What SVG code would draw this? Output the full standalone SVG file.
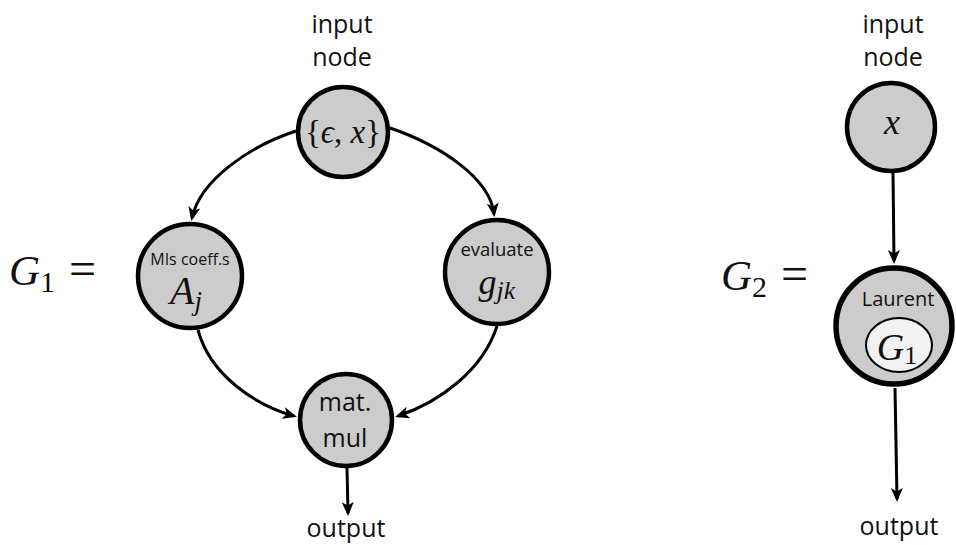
<svg xmlns="http://www.w3.org/2000/svg" width="956" height="545" viewBox="0 0 956 545">
<style>
.node{fill:#cccccc;stroke:#000;stroke-width:4.5}
.sans{font-family:"Open Sans","Noto Sans","DejaVu Sans",sans-serif;fill:#111;text-anchor:middle}
.math{font-family:"Liberation Serif","DejaVu Serif",serif;fill:#111}
.it{font-style:italic}
.edge{fill:none;stroke:#000;stroke-width:3}
</style>
<defs>
<marker id="arr" markerUnits="userSpaceOnUse" markerWidth="16" markerHeight="14" refX="11" refY="7" orient="auto">
<path d="M0,1 L14,7 L0,13 L3.5,7 z" fill="#000"/>
</marker>
</defs>
<rect width="956" height="545" fill="#fff"/>

<g id="labels">
<text class="sans" x="342" y="33" font-size="25">input</text>
<text class="sans" x="342" y="66" font-size="25">node</text>
<text class="sans" x="346" y="537" font-size="25">output</text>
<text class="sans" x="893" y="33" font-size="25">input</text>
<text class="sans" x="893" y="66" font-size="25">node</text>
<text class="sans" x="899" y="535" font-size="25">output</text>
<text class="math" x="9" y="285" font-size="43"><tspan class="it">G</tspan><tspan font-size="30" dy="7">1</tspan><tspan dy="-7" dx="14" font-size="48">=</tspan></text>
<text class="math" x="721" y="290" font-size="43"><tspan class="it">G</tspan><tspan font-size="30" dy="7">2</tspan><tspan dy="-7" dx="14" font-size="48">=</tspan></text>
</g>

<g id="connectors">
<path class="edge" marker-end="url(#arr)" d="M296,131 C250,146 200,180 192,218"/>
<path class="edge" marker-end="url(#arr)" d="M390,128 C440,145 490,178 494,214"/>
<path class="edge" marker-end="url(#arr)" d="M198,330 C210,375 255,405 294,416"/>
<path class="edge" marker-end="url(#arr)" d="M497,326 C483,370 440,402 398,416"/>
<path class="edge" marker-end="url(#arr)" d="M347,468 L348,513"/>
<path class="edge" marker-end="url(#arr)" d="M893,172 L894,261"/>
<path class="edge" marker-end="url(#arr)" d="M895,388 L897,499"/>
</g>

<g id="node-input">
<circle class="node" cx="343" cy="132" r="45"/>
<text class="math" x="343" y="143" font-size="33" text-anchor="middle">{<tspan class="it">ϵ</tspan>, <tspan class="it">x</tspan>}</text>
</g>

<g id="node-A">
<circle class="node" cx="190" cy="276" r="52"/>
<text class="sans" x="190" y="265" font-size="16">MIs coeff.s</text>
<text class="math" x="186" y="304" font-size="40" text-anchor="middle"><tspan class="it">A</tspan><tspan class="it" font-size="27" dy="6">j</tspan></text>
</g>

<g id="node-g">
<circle class="node" cx="497" cy="272" r="52"/>
<text class="sans" x="497" y="256" font-size="18.5">evaluate</text>
<text class="math" x="497" y="294" font-size="36" text-anchor="middle"><tspan class="it">g</tspan><tspan class="it" font-size="26" dy="5">jk</tspan></text>
</g>

<g id="node-matmul">
<circle class="node" cx="346" cy="420" r="46"/>
<text class="sans" x="345" y="411" font-size="25">mat.</text>
<text class="sans" x="345" y="447" font-size="25">mul</text>
</g>

<g id="node-x">
<circle class="node" cx="891" cy="127" r="44"/>
<text class="math it" x="892" y="134" font-size="36" text-anchor="middle">x</text>
</g>

<g id="node-laurent">
<circle cx="894" cy="326" r="58" fill="#cccccc" stroke="#000" stroke-width="5.5"/>
<text class="sans" x="898" y="306" font-size="20">Laurent</text>
<ellipse cx="899" cy="345" rx="33" ry="27" fill="#f2f2f2" stroke="#000" stroke-width="2"/>
<text class="math" x="897" y="360" font-size="38" text-anchor="middle"><tspan class="it">G</tspan><tspan font-size="26" dy="4">1</tspan></text>
</g>
</svg>
